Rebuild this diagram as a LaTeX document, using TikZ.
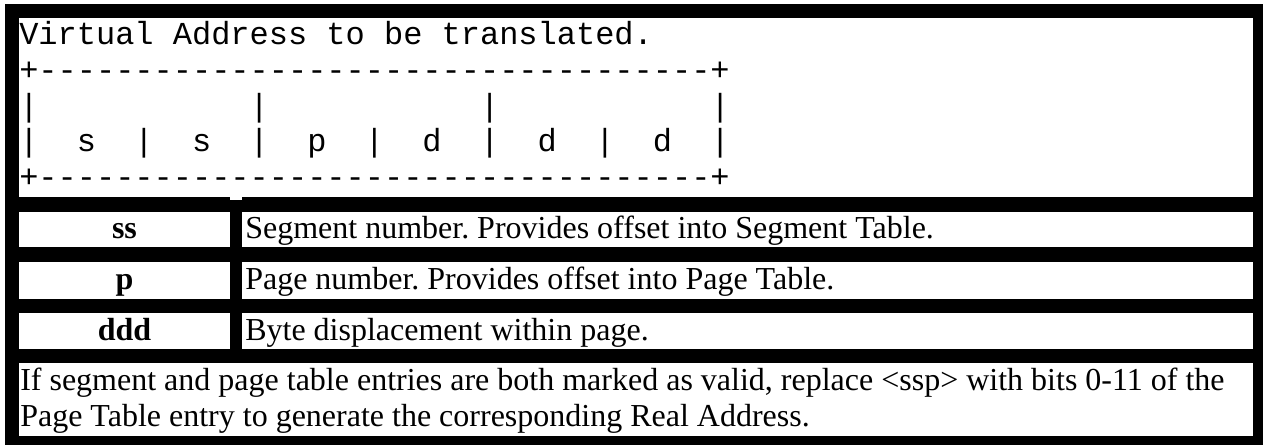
\documentclass[tikz,border=0pt]{standalone}
\usepackage{fontspec}
\setmainfont{Liberation Serif}
\newfontfamily\artfont{Liberation Mono}[Ligatures=TeXOff]
% a run of 35 hyphens, one per group so no ligature forms
\newcommand\artdashes{\foreach \k in {1,...,35}{-}}
\frenchspacing
\begin{document}
\begin{tikzpicture}[x=0.75pt,y=-0.75pt,
  mono/.style={anchor=base west, inner sep=0pt, font=\artfont\fontsize{24pt}{27pt}\selectfont},
  body/.style={anchor=base west, inner sep=0pt, font=\fontsize{24pt}{27.6pt}\selectfont},
  key/.style={anchor=base, inner sep=0pt, font=\bfseries\fontsize{24pt}{27.6pt}\selectfont}]
\useasboundingbox (0,0) rectangle (1263,445);
\fill[white] (0,0) rectangle (1263,445);
% table frame
\fill[black] (5,4) rectangle (1263,445);
% cells
\fill[white] (19,18) rectangle (1253,197);
\fill[white] (230,197) rectangle (242,200);
\fill[white] (19,212) rectangle (230,247.5);
\fill[white] (242,212) rectangle (1253,247.5);
\fill[white] (19,262) rectangle (230,298.5);
\fill[white] (242,262) rectangle (1253,298.5);
\fill[white] (19,313) rectangle (230,349);
\fill[white] (242,313) rectangle (1253,349);
\fill[white] (19,363) rectangle (1253,436);

% address layout in fixed-width text
\node[mono] (title) at (19,45) {Virtual~Address~to~be~translated.};
\node[mono] (topedge) at (19,80.7) {+\artdashes+};
\node[mono] (ticks) at (19,116.3) {|~~~~~~~~~~~|~~~~~~~~~~~|~~~~~~~~~~~|};
\node[mono] (fields) at (19,152) {|~~s~~|~~s~~|~~p~~|~~d~~|~~d~~|~~d~~|};
\node[mono] (botedge) at (19,187.7) {+\artdashes+};

% field legend
\node[key] (kss) at (124.5,239) {ss};
\node[body] (dss) at (245,239) {Segment number. Provides offset into Segment Table.};
\node[key] (kp) at (124.5,289.5) {p};
\node[body] (dp) at (245,289.5) {Page number. Provides offset into Page Table.};
\node[key] (kd) at (124.5,340) {ddd};
\node[body] (dd) at (245,340) {Byte displacement within page.};

% closing note
\node[body] (note1) at (20,390) {If segment and page table entries are both marked as valid, replace <ssp> with bits 0-11 of the};
\node[body] (note2) at (20,426) {Page Table entry to generate the corresponding Real Address.};
\end{tikzpicture}
\end{document}
